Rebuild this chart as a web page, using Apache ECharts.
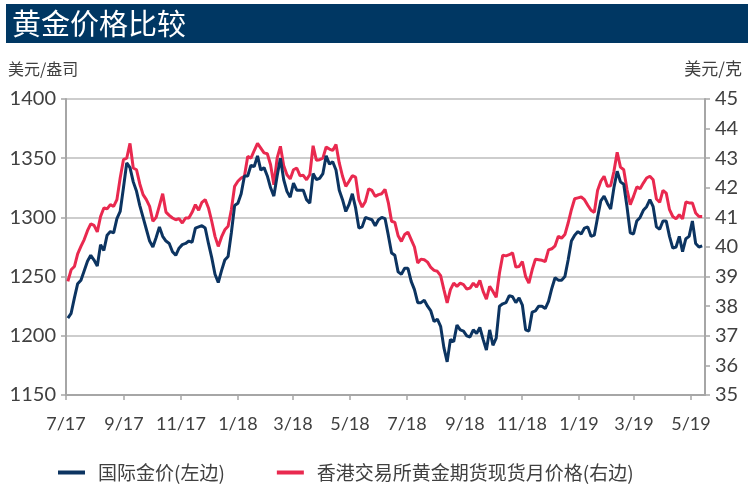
<!DOCTYPE html>
<html>
<head>
<meta charset="utf-8">
<title>黄金价格比较</title>
<script src="https://cdn.jsdelivr.net/npm/echarts@6/dist/echarts.min.js"></script>
<style>
html, body { margin: 0; padding: 0; background: #fff; }
#chart { width: 751px; height: 490px; }
</style>
</head>
<body>
<div id="chart"></div>
<script>
// readings twice a week (every 84 hours), first one on 3 Jul 2017
const firstDay = [2017, 6, 3]
const stepHours = 84

// 国际金价, 美元/盎司 (left axis)
const intlGold = [
  1215, 1219, 1232, 1244, 1247, 1255, 1263, 1268, 1264, 1259,
  1277, 1272, 1285, 1288, 1287, 1299, 1305, 1325, 1346, 1342,
  1330, 1322, 1310, 1300, 1290, 1280, 1275, 1283, 1292, 1284,
  1280, 1278, 1271, 1268, 1274, 1277, 1278, 1280, 1279, 1291,
  1292, 1293, 1291, 1278, 1266, 1252, 1245, 1255, 1264, 1267,
  1287, 1310, 1312, 1320, 1335, 1335, 1344, 1343, 1352, 1340,
  1342, 1335, 1325, 1318, 1335, 1350, 1332, 1322, 1317, 1329,
  1323, 1323, 1323, 1315, 1312, 1337, 1332, 1333, 1337, 1352,
  1345, 1347, 1340, 1323, 1315, 1305, 1311, 1320, 1308, 1291,
  1292, 1300, 1299, 1298, 1293, 1298, 1300, 1299, 1285, 1270,
  1268, 1254, 1252, 1257, 1257, 1246, 1239, 1228, 1228, 1230,
  1225, 1221, 1212, 1214, 1208, 1190, 1178, 1197, 1195, 1209,
  1205, 1204, 1200, 1199, 1205, 1202, 1207, 1197, 1188, 1205,
  1192, 1198, 1225, 1227, 1228, 1234, 1233, 1228, 1232, 1226,
  1205, 1204, 1220, 1221, 1225, 1225, 1223, 1229, 1240, 1249,
  1247, 1247, 1250, 1264, 1280, 1285, 1288, 1286, 1291, 1292,
  1284, 1285, 1300, 1314, 1318, 1312, 1307, 1325, 1339, 1330,
  1328, 1309, 1287, 1286, 1297, 1300, 1306, 1309, 1315, 1309,
  1292, 1290, 1297, 1297, 1284, 1274, 1275, 1284, 1271, 1282,
  1284, 1297, 1278, 1275, 1276
]

// 香港交易所黄金期货现货月价格, 美元/克 (right axis)
const hkexGold = [
  38.84, 39.23, 39.34, 39.77, 40.02, 40.25, 40.55, 40.78, 40.73, 40.51,
  41.03, 41.32, 41.29, 41.43, 41.37, 41.60, 42.33, 42.95, 43.00, 43.50,
  42.67, 42.61, 42.13, 41.77, 41.60, 41.37, 40.87, 41.00, 41.40, 41.80,
  41.18, 41.07, 40.98, 40.92, 40.96, 40.81, 40.98, 40.98, 41.17, 41.43,
  41.24, 41.51, 41.60, 41.32, 40.87, 40.36, 40.02, 40.34, 40.58, 40.70,
  41.26, 42.05, 42.22, 42.33, 42.39, 43.06, 43.00, 43.26, 43.50, 43.34,
  43.18, 43.15, 42.78, 42.10, 43.00, 43.40, 42.75, 42.44, 42.30, 42.61,
  42.67, 42.41, 42.42, 42.27, 42.45, 43.42, 42.93, 42.95, 43.00, 43.38,
  43.31, 43.26, 43.46, 42.84, 42.39, 42.05, 42.22, 42.41, 42.36, 41.60,
  41.35, 41.54, 41.96, 41.91, 41.71, 41.77, 41.80, 41.95, 41.50, 40.87,
  40.83, 40.38, 40.19, 40.42, 40.50, 40.25, 40.00, 39.46, 39.59, 39.57,
  39.49, 39.31, 39.21, 39.18, 39.03, 38.56, 38.11, 38.56, 38.78, 38.67,
  38.78, 38.73, 38.58, 38.61, 38.78, 38.65, 38.87, 38.50, 38.24, 38.67,
  38.50, 38.30, 39.12, 39.72, 39.70, 39.74, 39.80, 39.32, 39.34, 39.51,
  39.00, 38.78, 39.23, 39.59, 39.57, 39.55, 39.51, 39.90, 39.94, 40.04,
  40.36, 40.30, 40.42, 40.81, 41.26, 41.63, 41.66, 41.69, 41.60, 41.41,
  41.24, 41.17, 41.91, 42.22, 42.39, 42.05, 42.07, 42.55, 43.20, 42.70,
  42.61, 41.94, 41.43, 41.71, 42.03, 41.97, 42.16, 42.33, 42.39, 42.27,
  41.62, 41.51, 41.91, 41.82, 41.26, 41.03, 40.95, 41.09, 40.95, 41.52,
  41.49, 41.49, 41.15, 41.03, 41.03
]

// month marks on the x axis (year, month index)
const tickMonths = [
  [2017, 6], [2017, 8], [2017, 10], [2018, 0], [2018, 2], [2018, 4],
  [2018, 6], [2018, 8], [2018, 10], [2019, 0], [2019, 2], [2019, 4]
]
const xStart = [2017, 6, 1]
const xEnd = [2019, 4, 16]

const navy = '#0c3461'
const red = '#e9294f'
const gray = '#a6a6a6'
const textColor = '#404040'
const fontFamily = 'Lato, "Noto Sans CJK SC", sans-serif'

const readDates = intlGold.map((v, i) => new Date(firstDay[0], firstDay[1], firstDay[2], i * stepHours).getTime())
const tickValues = tickMonths.map(m => new Date(m[0], m[1], 1).getTime())

const chart = echarts.init(document.getElementById('chart'))

const option = {
  animation: false,
  backgroundColor: '#fff',
  textStyle: { fontFamily: fontFamily, color: textColor },
  graphic: [
    {
      type: 'rect',
      shape: { x: 6, y: 4, width: 742, height: 39 },
      style: { fill: '#003763' }
    },
    {
      type: 'text',
      x: 12, y: 24,
      style: {
        text: '黄金价格比较', fill: '#fff', font: '29px "Noto Sans CJK SC"',
        verticalAlign: 'middle'
      }
    },
    {
      type: 'text',
      x: 8, y: 69,
      style: {
        text: '美元/盎司', fill: textColor, font: '16px "Noto Sans CJK SC"',
        verticalAlign: 'middle'
      }
    },
    {
      type: 'text',
      x: 742, y: 69,
      style: {
        text: '美元/克', fill: textColor, font: '17px "Noto Sans CJK SC"',
        verticalAlign: 'middle', align: 'right'
      }
    }
  ],
  grid: { left: 66, right: 46, top: 99, height: 296, containLabel: false },
  legend: {
    left: 53,
    top: 458,
    itemWidth: 27,
    itemHeight: 4,
    itemGap: 52,
    icon: 'rect',
    data: ['国际金价(左边)', '香港交易所黄金期货现货月价格(右边)'],
    textStyle: { fontSize: 19, color: textColor, fontFamily: '"Noto Sans CJK SC"', padding: [0, 0, 0, 8] }
  },
  xAxis: {
    type: 'value',
    min: new Date(xStart[0], xStart[1], xStart[2]).getTime(),
    max: new Date(xEnd[0], xEnd[1], xEnd[2]).getTime(),
    axisLine: { lineStyle: { color: gray, width: 2 } },
    axisTick: { show: true, length: 5, customValues: tickValues, lineStyle: { color: gray, width: 1.5 } },
    axisLabel: {
      customValues: tickValues,
      fontSize: 18,
      color: textColor,
      margin: 20,
      formatter: v => {
        const d = new Date(v)
        return (d.getMonth() + 1) + '/' + String(d.getFullYear()).slice(2)
      }
    },
    splitLine: { show: false }
  },
  yAxis: [
    {
      type: 'value',
      min: 1150, max: 1400, interval: 50,
      axisLine: { show: true, lineStyle: { color: gray, width: 2 } },
      axisTick: { show: true, length: 5, lineStyle: { color: gray, width: 1.5 } },
      axisLabel: { fontSize: 20, color: textColor, margin: 10, formatter: v => String(v) },
      splitLine: { show: true, lineStyle: { color: '#bdbdbd', width: 1.5 } }
    },
    {
      type: 'value',
      min: 35, max: 45, interval: 1,
      axisLine: { show: true, lineStyle: { color: gray, width: 2 } },
      axisTick: { show: true, length: 5, lineStyle: { color: gray, width: 1.5 } },
      axisLabel: { fontSize: 20, color: textColor, margin: 10 },
      splitLine: { show: false }
    }
  ],
  series: [
    {
      name: '香港交易所黄金期货现货月价格(右边)',
      type: 'line',
      yAxisIndex: 1,
      showSymbol: false,
      color: red,
      lineStyle: { width: 3, color: red },
      data: hkexGold.map((v, i) => [readDates[i], v])
    },
    {
      name: '国际金价(左边)',
      type: 'line',
      yAxisIndex: 0,
      showSymbol: false,
      color: navy,
      lineStyle: { width: 3, color: navy },
      data: intlGold.map((v, i) => [readDates[i], v])
    }
  ]
}

chart.setOption(option)
</script>
</body>
</html>
